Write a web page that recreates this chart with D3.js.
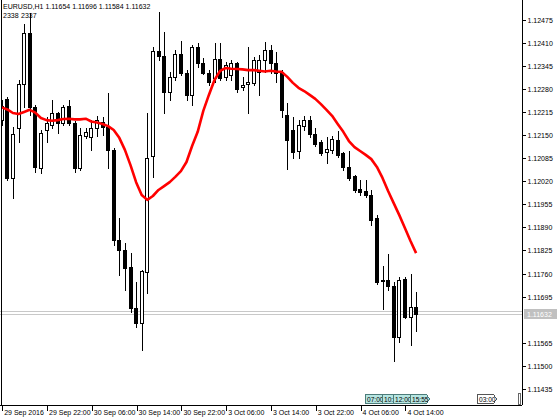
<!DOCTYPE html>
<html>
<head>
<meta charset="utf-8">
<script src="https://cdn.jsdelivr.net/npm/d3@7"></script>
<style>
body { margin: 0; background: #fff; }
svg { display: block; font-family: "Liberation Sans", Arial, sans-serif; }
</style>
</head>
<body>
<svg width="560" height="420"></svg>
<script>
// EURUSD H1, 29 Sep 14:00 .. 4 Oct 16:00
const opens  = [1.12180,1.12240,1.12017,1.12158,1.12282,1.12426,1.12217,1.12045,1.12152,1.12166,1.12200,1.12172,1.12220,1.12172,1.12045,1.12135,1.12132,1.12158,1.12175,1.12161,
                1.12096,1.11842,1.11814,1.11766,1.11650,1.11608,1.11752,1.12079,1.12375,1.12361,1.12259,1.12302,1.12366,1.12313,1.12251,1.12386,1.12341,1.12313,1.12299,1.12352,
                1.12302,1.12307,1.12341,1.12273,1.12282,1.12285,1.12316,1.12350,1.12378,1.12341,1.12316,1.12194,1.12152,1.12093,1.12163,1.12180,1.12141,1.12118,1.12090,1.12096,
                1.12124,1.12087,1.12048,1.12022,1.11986,1.11980,1.11969,1.11904,1.11729,1.11729,1.11712,1.11568,1.11732,1.11625,1.11654];
const highs  = [1.12237,1.12245,1.12161,1.12293,1.12451,1.12482,1.12223,1.12152,1.12189,1.12237,1.12203,1.12223,1.12237,1.12178,1.12158,1.12158,1.12180,1.12192,1.12189,1.12256,
                1.12101,1.11904,1.11833,1.11805,1.11724,1.11757,1.12200,1.12386,1.12485,1.12428,1.12316,1.12378,1.12403,1.12321,1.12392,1.12397,1.12355,1.12321,1.12397,1.12397,
                1.12344,1.12350,1.12344,1.12302,1.12386,1.12358,1.12364,1.12400,1.12392,1.12372,1.12321,1.12228,1.12189,1.12180,1.12192,1.12192,1.12158,1.12124,1.12132,1.12135,
                1.12149,1.12090,1.12093,1.12025,1.12011,1.12011,1.11983,1.11912,1.11769,1.11802,1.11724,1.11738,1.11738,1.11746,1.11696];
const lows   = [1.12166,1.12011,1.11960,1.12118,1.12217,1.12194,1.12034,1.12031,1.12118,1.12158,1.12144,1.12166,1.12166,1.12034,1.12039,1.12130,1.12096,1.12135,1.12138,1.12045,
                1.11828,1.11743,1.11701,1.11639,1.11597,1.11532,1.11692,1.12020,1.12350,1.12200,1.12237,1.12293,1.12307,1.12237,1.12223,1.12330,1.12310,1.12279,1.12288,1.12293,
                1.12293,1.12293,1.12259,1.12265,1.12200,1.12279,1.12251,1.12316,1.12313,1.12288,1.12189,1.12042,1.12073,1.12073,1.12152,1.12132,1.12107,1.12082,1.12059,1.12087,
                1.12076,1.12039,1.12011,1.11977,1.11969,1.11963,1.11884,1.11718,1.11647,1.11701,1.11501,1.11554,1.11622,1.11546,1.11584];
const closes = [1.12220,1.12017,1.12141,1.12282,1.12426,1.12217,1.12048,1.12144,1.12172,1.12200,1.12172,1.12217,1.12172,1.12045,1.12138,1.12147,1.12158,1.12180,1.12161,1.12096,
                1.11842,1.11814,1.11763,1.11650,1.11608,1.11754,1.12073,1.12375,1.12361,1.12259,1.12302,1.12366,1.12313,1.12251,1.12386,1.12341,1.12313,1.12288,1.12352,1.12299,
                1.12335,1.12341,1.12268,1.12279,1.12288,1.12350,1.12350,1.12378,1.12341,1.12313,1.12209,1.12124,1.12090,1.12166,1.12180,1.12141,1.12113,1.12087,1.12099,1.12127,
                1.12082,1.12048,1.12017,1.11983,1.11977,1.11969,1.11898,1.11724,1.11726,1.11712,1.11568,1.11729,1.11625,1.11653,1.11632];
const maLine = [1.12216,1.12210,1.12200,1.12197,1.12203,1.12209,1.12201,1.12186,1.12180,1.12178,1.12180,1.12183,1.12184,1.12182,1.12182,1.12184,1.12176,1.12173,1.12169,1.12163,
                1.12152,1.12130,1.12096,1.12053,1.12005,1.11969,1.11955,1.11966,1.11983,1.11994,1.12005,1.12020,1.12036,1.12062,1.12107,1.12147,1.12206,1.12251,1.12293,1.12319,
                1.12327,1.12325,1.12324,1.12323,1.12321,1.12321,1.12319,1.12317,1.12319,1.12317,1.12316,1.12302,1.12285,1.12271,1.12262,1.12251,1.12240,1.12225,1.12209,1.12192,
                1.12169,1.12147,1.12121,1.12104,1.12093,1.12082,1.12070,1.12048,1.12017,1.11980,1.11946,1.11912,1.11876,1.11839,1.11805];

const timeTickBars = [0, 8, 16, 24, 32, 40, 48, 56, 64, 72];
const timeLabels = ["29 Sep 2016","29 Sep 22:00","30 Sep 06:00","30 Sep 14:00","30 Sep 22:00",
                    "3 Oct 06:00","3 Oct 14:00","3 Oct 22:00","4 Oct 06:00","4 Oct 14:00"];
const priceTicks = [1.12475,1.12410,1.12345,1.12280,1.12215,1.12150,1.12085,1.12020,1.11955,
                    1.11890,1.11825,1.11760,1.11695,1.11565,1.11500,1.11435];
const bidPrice = 1.11632, askPrice = 1.11641;
// session tags along the time axis (the 10:00 tag is mostly hidden under the 12:00 one)
const tagLabels = ["07:00","10:","12:00","15:55"];
const tagBars = [65, 68, 70, 73];
const futureTag = "03:00", futureBar = 85;

const svg = d3.select("svg");
const W = 560, H = 420;
const plotRight = 522, plotBottom = 405;

const x = d3.scaleLinear().domain([0, 74]).range([1.7, 416.1]);
const y = d3.scaleLinear().domain([1.11435, 1.12475]).range([384.3, 15.5]);
const px = i => Math.round(x(i));

svg.append("rect").attr("width", W).attr("height", H).attr("fill", "#fff");

const plot = svg.append("g");
plot.append("clipPath").attr("id", "clip")
  .append("rect").attr("x", 2).attr("y", 0).attr("width", plotRight - 2).attr("height", plotBottom);

// bid / ask lines
plot.selectAll(".pl").data([askPrice, bidPrice]).enter().append("line")
  .attr("x1", 0).attr("x2", plotRight)
  .attr("y1", d => Math.round(y(d)) + 0.5).attr("y2", d => Math.round(y(d)) + 0.5)
  .attr("stroke", "#c8c8c8").attr("stroke-width", 1);

const candles = plot.append("g").attr("clip-path", "url(#clip)").attr("shape-rendering", "crispEdges");
const idx = d3.range(opens.length);

candles.selectAll(".wick").data(idx).enter().append("line")
  .attr("x1", i => px(i) + 0.5).attr("x2", i => px(i) + 0.5)
  .attr("y1", i => Math.round(y(highs[i]))).attr("y2", i => Math.round(y(lows[i])) + 1)
  .attr("stroke", "#000");

candles.selectAll(".body").data(idx).enter().append("rect")
  .attr("x", i => px(i) - 1.5)
  .attr("y", i => Math.round(y(Math.max(opens[i], closes[i]))) + 0.5)
  .attr("width", 3)
  .attr("height", i => Math.max(0, Math.round(y(Math.min(opens[i], closes[i]))) - Math.round(y(Math.max(opens[i], closes[i])))))
  .attr("fill", i => closes[i] >= opens[i] ? "#fff" : "#000")
  .attr("stroke", "#000");

// moving average
plot.append("path").datum(maLine)
  .attr("clip-path", "url(#clip)")
  .attr("d", d3.line().x((d, i) => x(i)).y(d => y(d)))
  .attr("fill", "none").attr("stroke", "#ff0000").attr("stroke-width", 2.6)
  .attr("stroke-linejoin", "round");

// frame + axes
const frame = svg.append("g").attr("shape-rendering", "crispEdges");
frame.append("line").attr("x1", 1.5).attr("x2", 1.5).attr("y1", 0).attr("y2", plotBottom).attr("stroke", "#000");

// MT4 prints the price labels a few pixels under the level they mark
const labelShift = 4.5;
const yAxis = svg.append("g").attr("transform", `translate(${plotRight + 0.5},0)`)
  .call(d3.axisRight(y).tickValues(priceTicks).tickSize(3).tickPadding(2).tickFormat(d3.format(".5f")));
yAxis.select(".domain").attr("d", `M0,0V${plotBottom}`).attr("shape-rendering", "crispEdges");
yAxis.selectAll(".tick").attr("transform", d => `translate(0,${Math.round(y(d) + labelShift) + 0.5})`);
yAxis.selectAll(".tick line").attr("shape-rendering", "crispEdges");
yAxis.selectAll("text").attr("font-size", 7).attr("font-family", "Liberation Sans, Arial, sans-serif").attr("fill", "#000");

const xAxis = svg.append("g").attr("transform", `translate(0,${plotBottom + 0.5})`)
  .call(d3.axisBottom(x).tickValues(timeTickBars).tickSize(5).tickFormat((d, i) => timeLabels[i]));
xAxis.select(".domain").attr("d", `M0,0H${plotRight}`).attr("shape-rendering", "crispEdges");
xAxis.selectAll(".tick line").attr("shape-rendering", "crispEdges").attr("transform", "translate(0.5,0)");
xAxis.selectAll("text").attr("font-size", 7).attr("font-family", "Liberation Sans, Arial, sans-serif")
  .attr("text-anchor", "start").attr("x", 2).attr("y", 5).attr("dy", "0.71em").attr("fill", "#000");

// current price label
const by = Math.round(y(bidPrice));
svg.append("rect").attr("x", plotRight + 2).attr("y", by - 5).attr("width", 33).attr("height", 10).attr("fill", "#c0c0c0");
svg.append("text").attr("x", plotRight + 5).attr("y", by + 2.5).attr("font-size", 7).attr("fill", "#fff").text(bidPrice.toFixed(5));

// time tags
function tag(label, bar, fill, stroke) {
  const x0 = px(bar) - 0.5, w = 16, t = 3, y0 = 394.5, h = 9;
  const g = svg.append("g");
  g.append("path")
    .attr("d", `M${x0},${y0}H${x0 + w}L${x0 + w + t},${y0 + h / 2}L${x0 + w},${y0 + h}H${x0}Z`)
    .attr("fill", fill).attr("stroke", stroke).attr("shape-rendering", "crispEdges");
  g.append("text").attr("x", x0 + 1.5).attr("y", y0 + 7).attr("font-size", 6.6).attr("fill", "#000").text(label);
}
tagLabels.forEach((t, i) => tag(t, tagBars[i], "#b6e6e2", "#4d7c7a"));
tag(futureTag, futureBar, "#fff", "#555");

svg.append("rect").attr("x", 518.5).attr("y", 393.5).attr("width", 2).attr("height", 11)
  .attr("fill", "none").attr("stroke", "#666").attr("shape-rendering", "crispEdges");

// header
svg.append("text").attr("x", 3).attr("y", 9).attr("font-size", 7).attr("fill", "#000")
  .text("EURUSD,H1  1.11654 1.11696 1.11584 1.11632");
svg.append("text").attr("x", 3).attr("y", 18).attr("font-size", 7).attr("fill", "#000").text("2338");
svg.append("text").attr("x", 21).attr("y", 18).attr("font-size", 7).attr("fill", "#000").text("2337");
</script>
</body>
</html>
